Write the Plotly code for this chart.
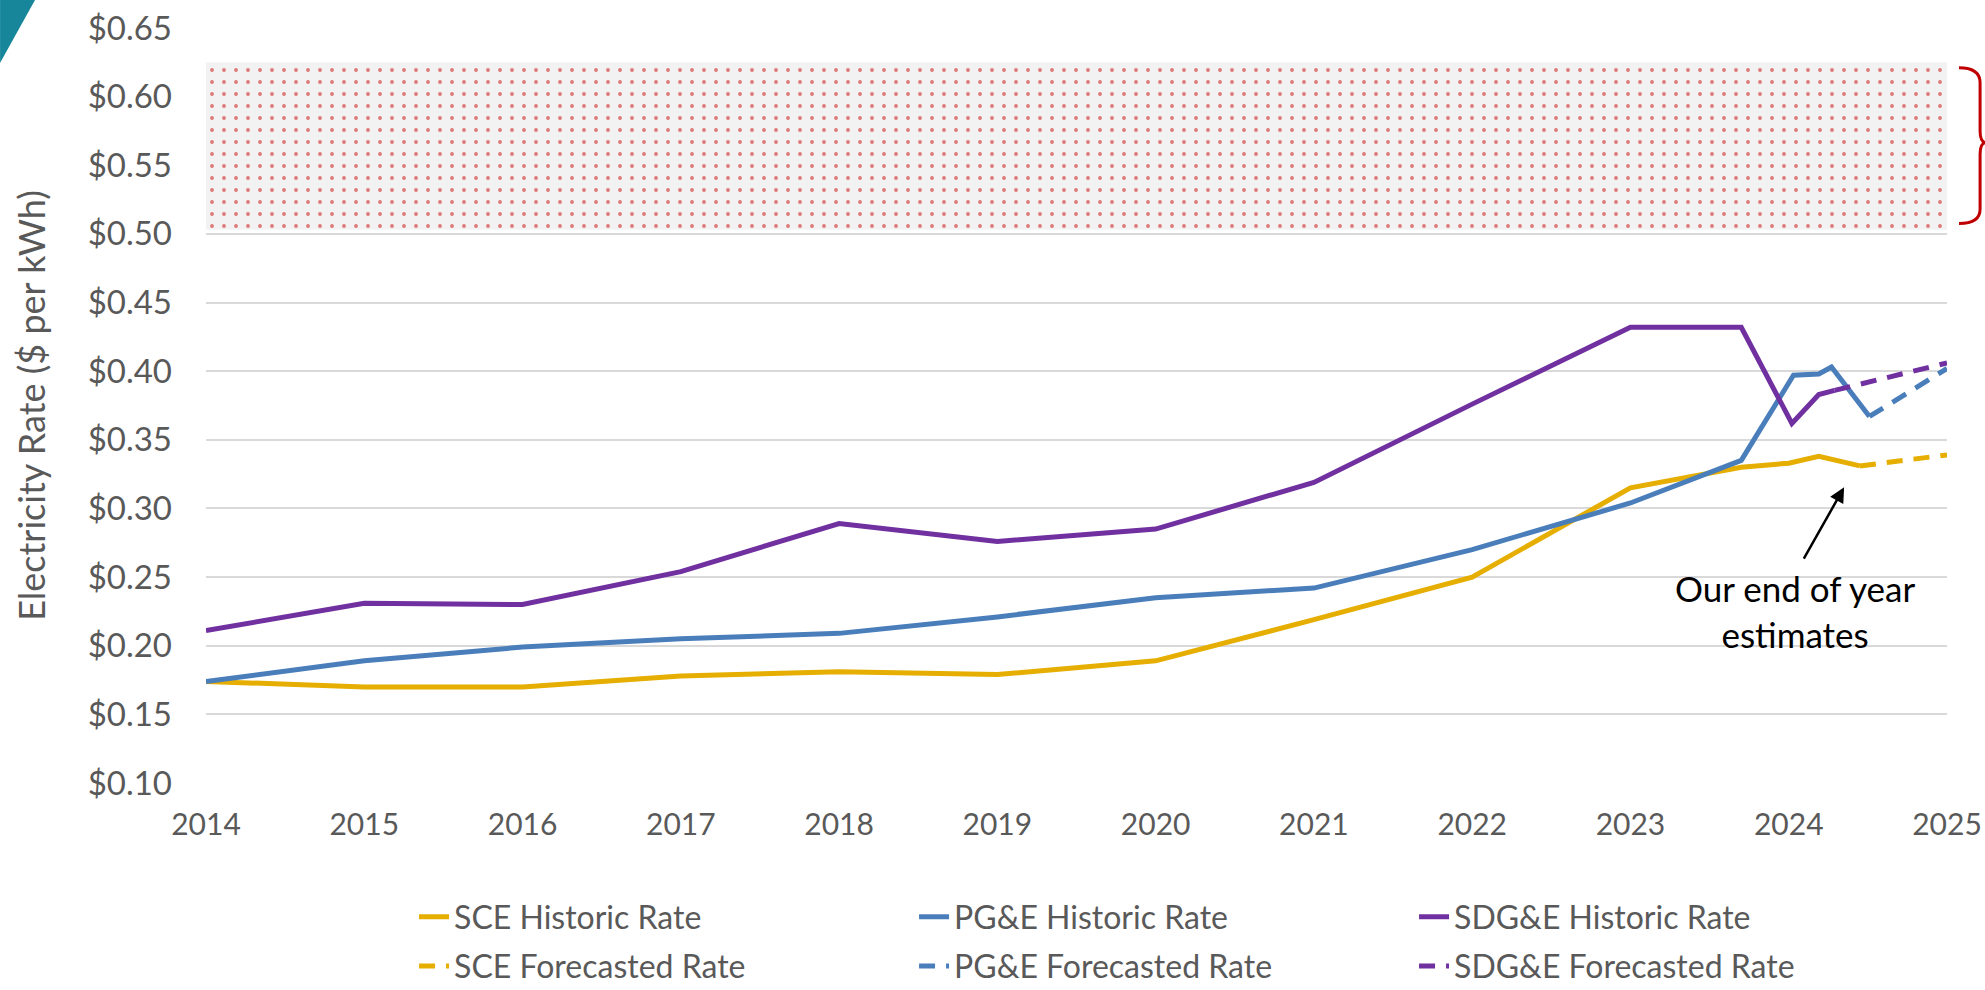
import plotly.graph_objects as go

# years (fractional years for the 2023-2024 monthly points)
sce_x = [2014, 2015, 2016, 2017, 2018, 2019, 2020, 2021, 2022, 2023, 2023.7, 2024.0, 2024.19, 2024.45]
sce_y = [0.174, 0.170, 0.170, 0.178, 0.181, 0.179, 0.189, 0.219, 0.250, 0.315, 0.330, 0.333, 0.338, 0.331]
sce_fx = [2024.45, 2025]
sce_fy = [0.331, 0.339]

pge_x = [2014, 2015, 2016, 2017, 2018, 2019, 2020, 2021, 2022, 2023, 2023.7, 2024.03, 2024.19, 2024.27, 2024.51]
pge_y = [0.174, 0.189, 0.199, 0.205, 0.209, 0.221, 0.235, 0.242, 0.270, 0.304, 0.335, 0.397, 0.398, 0.403, 0.367]
pge_fx = [2024.51, 2025]
pge_fy = [0.367, 0.402]

sdge_x = [2014, 2015, 2016, 2017, 2018, 2019, 2020, 2021, 2022, 2023, 2023.7, 2024.02, 2024.19, 2024.29]
sdge_y = [0.211, 0.231, 0.230, 0.254, 0.289, 0.276, 0.285, 0.319, 0.376, 0.432, 0.432, 0.362, 0.383, 0.386]
sdge_fx = [2024.29, 2025]
sdge_fy = [0.386, 0.406]

# dotted band
band_x = [2014, 2025, 2025, 2014, 2014]
band_y = [0.503, 0.503, 0.625, 0.625, 0.503]

GOLD = "#E5AE00"
BLUE = "#4A7EBB"
PURPLE = "#7030A0"
GREY = "#595959"
FONT = "Lato, sans-serif"

fig = go.Figure()

fig.add_trace(go.Scatter(x=band_x, y=band_y, mode="lines", fill="toself",
                         line=dict(width=0), fillcolor="#f2f2f2",
                         fillpattern=dict(shape=".", fgcolor="#cc0000", bgcolor="#f2f2f2",
                                          size=12, solidity=0.08),
                         showlegend=False, hoverinfo="skip"))

hist = [("SCE Historic Rate", sce_x, sce_y, GOLD),
        ("PG&E Historic Rate", pge_x, pge_y, BLUE),
        ("SDG&E Historic Rate", sdge_x, sdge_y, PURPLE)]
fore = [("SCE Forecasted Rate", sce_fx, sce_fy, GOLD),
        ("PG&E Forecasted Rate", pge_fx, pge_fy, BLUE),
        ("SDG&E Forecasted Rate", sdge_fx, sdge_fy, PURPLE)]

for name, x, y, c in hist:
    fig.add_trace(go.Scatter(x=x, y=y, name=name, mode="lines",
                             line=dict(color=c, width=5), legend="legend"))
for name, x, y, c in fore:
    fig.add_trace(go.Scatter(x=x, y=y, name=name, mode="lines",
                             line=dict(color=c, width=5, dash="16px,11px"), legend="legend2"))

# arrow + label
fig.add_annotation(x=2024.35, y=0.3154, ax=2024.09, ay=0.2623, axref="x", ayref="y",
                   xref="x", yref="y", text="", showarrow=True, arrowhead=2,
                   arrowsize=1.2, arrowwidth=2.5, arrowcolor="black", standoff=0)
fig.add_annotation(x=2024.04, y=0.2252, xref="x", yref="y", showarrow=False,
                   text="Our end of year<br>estimates", align="center",
                   font=dict(family=FONT, size=35, color="black"))

# teal corner and red brace
fig.add_shape(type="path", xref="paper", yref="paper",
              path="M -0.1183,1.0371 L -0.0982,1.0371 L -0.1183,0.9536 Z",
              fillcolor="#17869A", line=dict(width=0), layer="above")
fig.add_shape(type="path", xref="paper", yref="paper",
              path=("M 1.0069,0.9473 Q 1.019,0.9473 1.019,0.9273 L 1.019,0.8636 "
                    "Q 1.019,0.8482 1.0225,0.8482 Q 1.019,0.8482 1.019,0.8327 "
                    "L 1.019,0.76 Q 1.019,0.7411 1.0069,0.7411"),
              line=dict(color="#C00000", width=3), layer="above")

legend_common = dict(orientation="h", xanchor="left", yanchor="middle",
                     entrywidth=455, entrywidthmode="pixels",
                     font=dict(family=FONT, size=32, color=GREY),
                     bgcolor="rgba(0,0,0,0)")

fig.update_layout(
    width=1985, height=990,
    margin=dict(l=206, r=38, t=28, b=207, autoexpand=False),
    plot_bgcolor="white", paper_bgcolor="white",
    font=dict(family=FONT, size=30, color=GREY),
    legend=dict(x=0.1195, y=-0.1775, **legend_common),
    legend2=dict(x=0.1195, y=-0.2425, **legend_common),
    xaxis=dict(range=[2014, 2025], dtick=1, tickformat="d", showgrid=False,
               zeroline=False, showline=False, ticks="", ticklabelstandoff=21,
               automargin=False, tickfont=dict(family=FONT, size=30, color=GREY)),
    yaxis=dict(range=[0.10, 0.65], dtick=0.05, tickprefix="$", tickformat=".2f",
               showgrid=True, gridcolor="#d9d9d9", gridwidth=2, zeroline=False,
               showline=False, ticks="", ticklabelstandoff=33, automargin=False,
               tickfont=dict(family=FONT, size=33, color=GREY),
               title=dict(text="Electricity Rate ($ per kWh)", standoff=31,
                          font=dict(family=FONT, size=36, color=GREY))),
)

fig.write_html("out.html", config={"displayModeBar": False},
               post_script="document.body.style.margin='0';document.body.style.padding='0';")
